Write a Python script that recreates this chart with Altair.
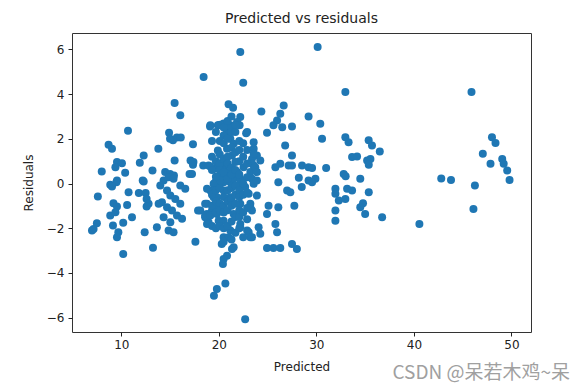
import altair as alt
import pandas as pd

# ---- data ----
predicted = [
    # left group (x < 19)
    18.44, 15.47, 16.05, 10.69, 14.9, 15.7, 16.1, 15.3, 15.0, 19.1, 19.9, 8.7, 9.05, 13.8, 17.35,
    19.9, 12.3, 11.9, 9.56, 10.07, 9.4, 8.0, 10.4, 13.2, 15.47, 17.1, 17.35, 17.0, 14.5, 15.0,
    15.4, 18.4, 18.95, 19.6, 9.56, 8.87, 12.2,
    9.5, 9.05, 12.3, 7.6, 10.75, 11.8, 12.5, 12.6, 12.8, 12.6, 9.2, 9.56, 10.6, 8.87, 9.4, 11.1,
    10.2, 7.5, 7.16, 7.0, 9.15, 9.7, 9.56, 12.4, 10.2, 13.25, 13.65,
    14.34, 14.85, 15.36, 16.05, 16.56, 14.0, 14.69, 15.03, 15.54, 16.05, 14.17, 14.69, 15.2, 15.71,
    14.34, 15.03, 14.85, 15.36, 16.23, 13.83,
    17.6, 17.87, 19.13, 19.47, 19.8, 18.79, 19.3, 18.6, 18.95, 19.8, 19.98,
    # central blob and right of it
    22.2, 22.5, 21.0, 21.46, 24.36, 26.65, 26.3, 25.97, 25.6, 24.94, 26.5, 27.5, 22.2, 21.87, 22.13,
    20.15, 21.2, 20.84, 22.8, 23.57, 23.57, 23.9, 24.25, 26.8, 27.5, 26.3, 27.16, 25.8, 26.1,
    20.49, 21.18, 21.52, 20.84, 21.35, 21.7, 20.67, 21.0, 21.87, 22.2, 20.15, 19.64, 20.49, 21.18,
    22.2, 23.23, 23.57, 23.4, 23.4, 22.54, 21.52,
    19.47, 20.15, 20.84, 21.52, 22.2, 22.9, 23.57, 23.9, 23.23, 22.2, 21.18, 20.49, 19.8, 18.6,
    18.79, 18.79, 19.8, 20.49, 21.52, 22.2, 21.18, 20.49, 21.0, 20.3, 21.35, 20.84, 20.49, 20.42,
    22.9, 23.23, 24.08, 24.25, 20.67, 19.8, 19.5, 22.7, 25.1, 24.94, 26.1, 25.8, 25.97, 24.94,
    25.6, 26.3, 27.5, 28.0, 27.0, 27.74, 28.5, 29.2,
    19.13, 19.98, 20.49, 21.18, 21.7, 22.9, 23.57, 23.4, 23.74, 23.9, 19.13, 17.4, 17.25,
    18.1, 18.6, 19.13, 21.52, 22.2, 23.06, 23.4, 23.23, 23.4, 22.7, 23.06, 18.79, 19.47, 19.8, 23.9,
    19.3, 19.3, 19.3, 19.3, 19.3, 19.3,
    19.7, 19.7, 19.7, 19.7, 19.7, 19.7, 19.7,
    20.1, 20.1, 20.1, 20.1, 20.1, 20.1, 20.1, 20.1,
    20.5, 20.5, 20.5, 20.5, 20.5, 20.5, 20.5, 20.5, 20.5,
    20.9, 20.9, 20.9, 20.9, 20.9, 20.9, 20.9, 20.9, 20.9,
    21.3, 21.3, 21.3, 21.3, 21.3, 21.3, 21.3, 21.3, 21.3, 21.3,
    21.7, 21.7, 21.7, 21.7, 21.7, 21.7, 21.7, 21.7,
    22.1, 22.1, 22.1, 22.1, 22.1, 22.1, 22.1, 22.1, 22.1,
    22.5, 22.5, 22.5, 22.5, 22.5, 22.5,
    22.9, 22.9, 22.9, 22.9, 22.9,
    # right part
    30.13, 32.97, 29.2, 30.4, 30.58, 32.97, 33.3, 35.36, 35.7, 36.5, 33.66, 34.17, 35.2, 35.54,
    35.37, 27.5, 28.53, 29.2, 29.56, 31.0, 28.2, 29.9, 29.56, 32.8, 33.0, 34.5,
    27.33, 31.95, 31.95, 32.3, 32.97, 33.15, 33.66, 35.37, 34.78, 34.5, 35.0, 31.95, 31.95, 36.74,
    40.56, 42.8, 43.8, 45.9, 48.0, 48.36, 47.06, 47.85, 49.05, 49.2, 49.56, 49.8, 46.25, 46.1,
]
residuals = [
    4.76, 3.60, 3.05, 2.36, 2.27, 2.06, 2.06, 1.93, 2.0, 2.55, 2.6, 1.73, 1.55, 1.55, 1.75,
    1.48, 1.25, 0.93, 0.96, 0.91, 0.73, 0.54, 0.48, 0.58, 1.03, 1.03, 0.84, 0.43, 0.51, 0.43,
    0.36, 0.81, 0.81, 0.66, 0.13, -0.06, 0.13,
    0.06, -0.13, 0.09, -0.58, -0.39, -0.43, -0.43, -0.69, -0.91, -1.03, -0.88, -1.03, -0.96, -1.43, -1.29, -1.51,
    -1.76, -1.78, -2.03, -2.1, -1.88, -2.18, -2.4, -2.18, -3.15, -2.87, -1.96,
    0.13, 0.28, 0.21, -0.09, -0.24, -0.09, -0.31, -0.54, -0.69, -0.91, -0.84, -1.06, -1.21, -1.43,
    -1.51, -1.73, -2.1, -2.18, -1.58, -0.91,
    -2.6, -1.21, -0.31, -0.61, -0.01, -0.91, -1.21, -1.51, -1.73, -1.06, -1.66,
    5.88, 4.51, 3.54, 3.39, 3.22, 3.49, 3.12, 2.82, 2.6, 2.27, 2.52, 2.55, 2.97, 2.75, 2.6,
    2.63, 2.6, 2.3, 2.25, 1.85, 1.55, 1.25, 1.03, 1.7, 1.25, 0.88, 0.81, 0.73, 0.06,
    2.15, 2.0, 1.78, 1.55, 1.25, 0.96, 0.81, 0.51, 0.51, 0.21, 0.36, 0.06, 0.06, 0.06,
    -0.09, 0.51, 0.81, 1.1, 0.21, 0.73, 0.21,
    -0.01, 0.13, 0.28, 0.43, 0.13, 0.28, -0.01, -0.54, -0.91, -0.91, -0.61, -0.31, -0.61, -0.91,
    -1.36, -1.81, -1.36, -1.66, -1.36, -1.81, -2.1, -2.4, -2.4, -2.7, -2.93, -3.23, -3.38, -3.6,
    -2.1, -2.4, -1.96, -2.25, -4.47, -4.72, -5.02, -6.07, -0.99, -1.36, -1.06, -1.81, -2.18, -2.88,
    -2.88, -2.88, -2.7, -2.93, -0.31, -0.99, -0.16, 0.13,
    2.6, 2.6, 2.68, 2.52, 2.6, 2.3, 1.33, 0.88, 0.73, 0.51, 0.76, 0.96, 0.43,
    -1.21, -1.43, -1.43, -2.85, -1.96, -2.18, -2.4, -1.06, -1.21, -0.16, -0.46, -0.24, -0.31, -0.76, 0.13,
    1.9, 1.2, 0.6, -0.5, -1.0, -1.9,
    2.3, 1.0, 0.3, -0.3, -0.8, -1.3, -2.0,
    1.9, 1.3, 0.9, 0.6, -0.2, -0.9, -1.2, -1.9,
    2.5, 1.8, 1.1, 0.5, -0.6, -1.0, -1.3, -2.0, -2.6,
    2.8, 2.0, 1.2, 0.9, 0.2, -0.3, -0.8, -1.2, -1.9,
    3.0, 2.3, 1.6, 0.7, 0.4, -0.2, -0.7, -1.0, -1.7, -2.5,
    2.3, 1.4, 0.6, -0.1, -0.5, -0.9, -1.5, -2.2,
    1.9, 1.5, 1.0, 0.4, -0.3, -0.6, -1.2, -1.5, -2.0,
    1.8, 1.2, 0.0, -0.5, -1.3, -2.4,
    1.5, 0.9, -0.4, -1.1, -1.6,
    6.1, 4.09, 3.0, 2.67, 2.0, 2.07, 1.85, 1.93, 1.7, 1.43, 1.18, 1.21, 1.03, 1.1,
    0.84, 0.81, 0.81, 0.73, 0.69, 0.69, 0.26, 0.21, 0.06, 0.43, 0.33, 0.21,
    -0.39, -0.24, -0.46, -0.76, -0.69, -0.24, -0.31, -0.39, -0.88, -1.06, -1.36, -1.21, -1.66, -1.51,
    -1.81, 0.22, 0.16, 4.09, 2.07, 1.81, 1.33, 0.88, 1.1, 0.88, 0.58, 0.16, -0.09, -1.14,
]
x_ticks = [10, 20, 30, 40, 50]
y_ticks = [-6, -4, -2, 0, 2, 4, 6]
chart_title = "Predicted vs residuals"
x_title = "Predicted"
y_title = "Residuals"
watermark = "CSDN @呆若木鸡~呆"

n = min(len(predicted), len(residuals))
df = pd.DataFrame({"Predicted": predicted[:n], "Residuals": residuals[:n]})

FONT = "DejaVu Sans"

points = alt.Chart(df).mark_circle(size=64, color="#1f77b4", opacity=1).encode(
    x=alt.X(
        "Predicted:Q",
        scale=alt.Scale(domain=[4.95, 52.0], nice=False, zero=False),
        axis=alt.Axis(values=x_ticks, title=x_title, grid=False, domain=False,
                      tickSize=4, tickColor="#222", labelColor="#222",
                      labelFont=FONT, labelFontSize=12, labelPadding=3,
                      titleFont=FONT, titleFontSize=12, titleFontWeight="normal",
                      titleColor="#222", titlePadding=11),
    ),
    y=alt.Y(
        "Residuals:Q",
        scale=alt.Scale(domain=[-6.64, 6.73], nice=False, zero=False),
        axis=alt.Axis(values=y_ticks, title=y_title, grid=False, domain=False,
                      tickSize=4, tickColor="#222", labelColor="#222",
                      labelFont=FONT, labelFontSize=12, labelPadding=4,
                      titleFont=FONT, titleFontSize=12, titleFontWeight="normal",
                      titleColor="#222", titlePadding=11),
    ),
)

wm = alt.Chart(pd.DataFrame({"t": [watermark]})).mark_text(
    align="right", baseline="middle", font="Noto Sans CJK SC", fontSize=19,
    color="#a0a0a0",
).encode(text="t:N", x=alt.value(498), y=alt.value(340))

chart = alt.layer(points, wm).properties(
    width=459, height=299,
    title=alt.TitleParams(chart_title, font=FONT, fontSize=14, fontWeight="normal",
                          color="#222", offset=7, anchor="middle"),
    autosize=alt.AutoSizeParams(type="none"),
    padding={"left": 64, "top": 25, "right": 40, "bottom": 54},
).configure_view(stroke="#333", strokeWidth=1)

chart.save("out.html", embed_options={"renderer": "svg", "actions": False})
